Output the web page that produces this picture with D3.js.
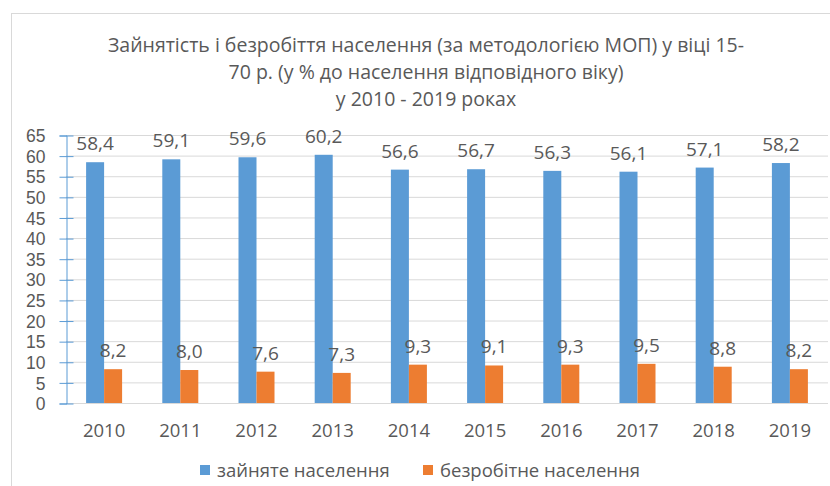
<html lang="uk">
<head>
<meta charset="utf-8">
<script src="https://d3js.org/d3.v7.min.js"></script>
<style>
  body { margin: 0; background: #fff; }
  text { font-family: "Open Sans", "Noto Sans", sans-serif; fill: #595959; }
</style>
</head>
<body>
<script>
// chart data
const years = ["2010", "2011", "2012", "2013", "2014", "2015", "2016", "2017", "2018", "2019"];
const employed = [58.4, 59.1, 59.6, 60.2, 56.6, 56.7, 56.3, 56.1, 57.1, 58.2];
const unemployed = [8.2, 8.0, 7.6, 7.3, 9.3, 9.1, 9.3, 9.5, 8.8, 8.2];
const seriesNames = ["зайняте населення", "безробітне населення"];
const yTicks = [0, 5, 10, 15, 20, 25, 30, 35, 40, 45, 50, 55, 60, 65];
const titleLines = [
  "Зайнятість і безробіття населення (за методологією МОП) у віці 15-",
  "70 р. (у % до населення відповідного віку)",
  "у 2010 - 2019 роках"
];

const W = 830, H = 486;
const plotL = 66, plotR = 828, plotT = 135, plotB = 403;
const colors = ["#5b9bd5", "#ed7d31"];

const svg = d3.select("body").append("svg")
  .attr("width", W).attr("height", H);

// chart frame
svg.append("rect")
  .attr("x", 11.5).attr("y", 13.5)
  .attr("width", 840).attr("height", 500)
  .attr("fill", "none").attr("stroke", "#d9d9d9");

// title
svg.append("g").selectAll("text").data(titleLines).join("text")
  .attr("x", 426).attr("y", (d, i) => 52 + i * 27)
  .attr("text-anchor", "middle")
  .style("font-size", "19.5px")
  .text(d => d);

const x = d3.scaleBand().domain(years).range([plotL, plotR]).paddingInner(0).paddingOuter(0);
const y = d3.scaleLinear().domain([0, 65]).range([plotB, plotT]);
const barW = 18;

// gridlines
svg.append("g").selectAll("line").data(yTicks).join("line")
  .attr("x1", plotL).attr("x2", plotR)
  .attr("y1", d => y(d) + 0.5).attr("y2", d => y(d) + 0.5)
  .attr("stroke", "#d9d9d9");

// y axis
const yAxis = svg.append("g")
  .attr("transform", `translate(${plotL + 0.5},0.5)`)
  .call(d3.axisLeft(y).tickValues(yTicks).tickSize(7).tickPadding(14));
yAxis.select(".domain").attr("stroke", "#5b9bd5");
yAxis.selectAll(".tick line").attr("stroke", "#5b9bd5").attr("x2", 7).attr("x1", -7);
yAxis.selectAll(".tick text")
  .style("font-size", "17.5px")
  .style("font-family", "'Liberation Sans', Arial, sans-serif")
  .attr("fill", "#595959")
  .attr("font-family", null).attr("dy", "0.35em");

// x axis labels
const xAxis = svg.append("g")
  .attr("transform", `translate(0,${plotB})`)
  .call(d3.axisBottom(x).tickSize(0).tickPadding(21));
xAxis.select(".domain").remove();
xAxis.selectAll(".tick text").style("font-size", "18.5px").attr("fill", "#595959")
  .attr("font-family", null).attr("dy", "0.71em");

// bars
const series = [employed, unemployed];
series.forEach((vals, s) => {
  const g = svg.append("g");
  const bx = (d, i) => x(years[i]) + x.bandwidth() / 2 - barW + s * barW;
  g.selectAll("rect").data(vals).join("rect")
    .attr("x", bx)
    .attr("y", d => y(d))
    .attr("width", barW)
    .attr("height", d => y(0) - y(d))
    .attr("fill", colors[s]);
  g.selectAll("text").data(vals).join("text")
    .attr("x", (d, i) => bx(d, i) + barW / 2)
    .attr("y", d => y(d) - 12)
    .attr("text-anchor", "middle")
    .style("font-size", "19px")
    .text(d => d.toFixed(1).replace(".", ","));
});

// legend
const legend = svg.append("g");
const legendX = [200, 423];
seriesNames.forEach((name, s) => {
  legend.append("rect")
    .attr("x", legendX[s]).attr("y", 465)
    .attr("width", 10).attr("height", 10)
    .attr("fill", colors[s]);
  legend.append("text")
    .attr("x", legendX[s] + 17).attr("y", 477)
    .style("font-size", "18.5px")
    .text(name);
});
</script>
</body>
</html>
